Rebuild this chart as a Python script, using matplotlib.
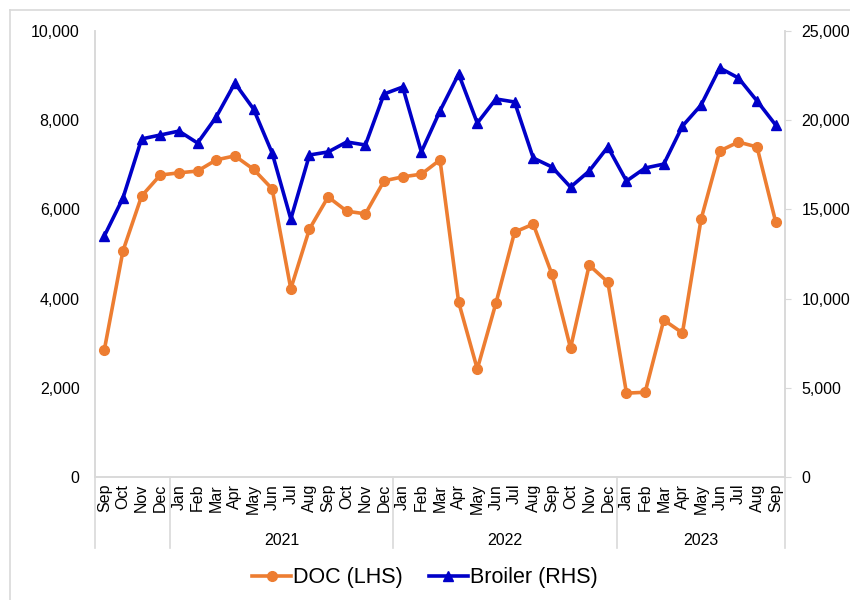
import matplotlib.pyplot as plt
from matplotlib.lines import Line2D

plt.rcParams['font.family'] = ['Liberation Sans', 'DejaVu Sans']

# monthly data, Sep 2020 -> Sep 2023
months = ["Sep", "Oct", "Nov", "Dec",
          "Jan", "Feb", "Mar", "Apr", "May", "Jun", "Jul", "Aug", "Sep", "Oct", "Nov", "Dec",
          "Jan", "Feb", "Mar", "Apr", "May", "Jun", "Jul", "Aug", "Sep", "Oct", "Nov", "Dec",
          "Jan", "Feb", "Mar", "Apr", "May", "Jun", "Jul", "Aug", "Sep"]
years = ["2021", "2022", "2023"]
year_start = [4, 16, 28]

doc = [2850, 5070, 6300, 6770,
       6820, 6860, 7110, 7200, 6900, 6460, 4220, 5560, 6280, 5960, 5900, 6640,
       6730, 6790, 7110, 3920, 2420, 3900, 5490, 5670, 4550, 2890, 4750, 4370,
       1880, 1900, 3520, 3230, 5780, 7310, 7510, 7400, 5720]
broiler = [13510, 15640, 18950, 19170,
           19390, 18720, 20180, 22080, 20630, 18160, 14460, 18050, 18220, 18780, 18610, 21470,
           21860, 18220, 20520, 22590, 19840, 21190, 21020, 17880, 17380, 16250, 17150, 18500,
           16590, 17320, 17540, 19670, 20850, 22930, 22370, 21080, 19730]

orange = "#ED7D31"
blue = "#0000C8"
grey = "#D9D9D9"

fig = plt.figure(figsize=(8.5, 6), dpi=100)
ax = fig.add_axes([95/850, 1-477/600, 690/850, 446/600])
ax2 = ax.twinx()

x = list(range(len(months)))
ax.plot(x, doc, color=orange, lw=2.6, marker="o", ms=7, zorder=3)
ax2.plot(x, broiler, color=blue, lw=2.6, marker="^", ms=7.5, zorder=3)

ax.set_xlim(-0.5, len(months) - 0.5)
ax.set_ylim(0, 10000)
ax2.set_ylim(0, 25000)
ax.set_yticks(range(0, 10001, 2000))
ax2.set_yticks(range(0, 25001, 5000))
ax.set_yticklabels([f"{v:,}" for v in range(0, 10001, 2000)], fontsize=11.5)
ax2.set_yticklabels([f"{v:,}" for v in range(0, 25001, 5000)], fontsize=11.5)
ax.tick_params(axis="y", length=0, pad=11)
ax2.tick_params(axis="y", length=4, color=grey, pad=8)

ax.set_xticks(x)
ax.set_xticklabels(months, rotation=90, fontsize=11.5)
ax.tick_params(axis="x", length=0, pad=5)

for a in (ax, ax2):
    a.spines["top"].set_visible(False)
    for s in ("left", "right", "bottom"):
        a.spines[s].set_color(grey)
        a.spines[s].set_linewidth(1.2)

# year separators and year labels under the month labels
trans = ax.get_xaxis_transform()
for b in [-0.5] + [s - 0.5 for s in year_start] + [len(months) - 0.5]:
    ax.add_line(Line2D([b, b], [0, -0.16], transform=trans, color=grey, lw=1.2, clip_on=False))
ends = year_start[1:] + [len(months)]
for yr, s, e in zip(years, year_start, ends):
    ax.text((s + e - 1) / 2, -0.143, yr, transform=trans, ha="center", va="center", fontsize=11.5)

# chart border
fig.add_artist(Line2D([10/850, 10/850], [0, 1-10/600], color=grey, lw=1.2))
fig.add_artist(Line2D([10/850, 1], [1-10/600, 1-10/600], color=grey, lw=1.2))

handles = [Line2D([], [], color=orange, lw=2.6, marker="o", ms=7),
           Line2D([], [], color=blue, lw=2.6, marker="^", ms=7.5)]
fig.legend(handles, ["DOC (LHS)", "Broiler (RHS)"], loc="center", bbox_to_anchor=(0.5, 1-578/600),
           ncol=2, frameon=False, fontsize=15.5, handlelength=1.8, handletextpad=0.1, columnspacing=1.2)

fig.savefig("out.png", dpi=100)
